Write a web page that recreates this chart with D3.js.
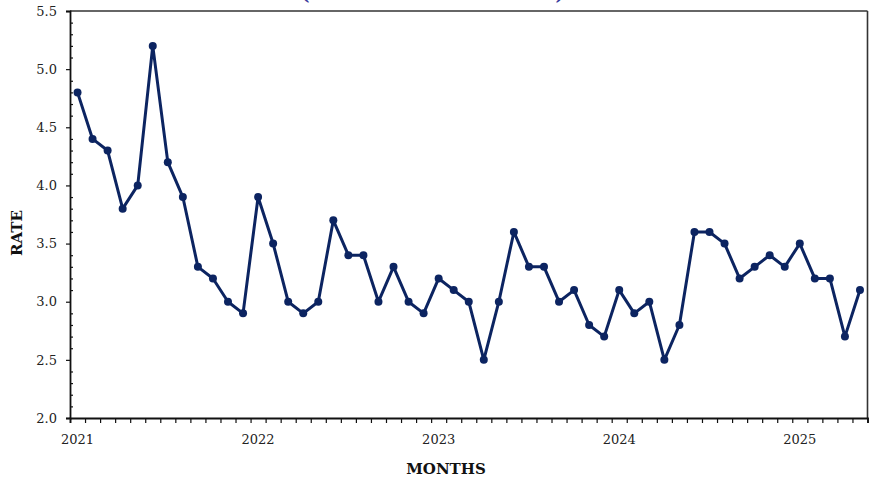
<!DOCTYPE html>
<html>
<head>
<meta charset="utf-8">
<script src="https://cdn.jsdelivr.net/npm/d3@7/dist/d3.min.js"></script>
<style>
  html, body { margin: 0; padding: 0; background: #fff; }
  svg { display: block; font-family: "DejaVu Serif", "Liberation Serif", serif; }
</style>
</head>
<body>
<svg id="chart" width="871" height="479"></svg>
<script>
// ---- data ----
const startMonth = new Date(2021, 0, 1);
const endMonth = new Date(2025, 5, 1); // exclusive
const rateValues = [
  4.8, 4.4, 4.3, 3.8, 4.0, 5.2, 4.2, 3.9, 3.3, 3.2, 3.0, 2.9,
  3.9, 3.5, 3.0, 2.9, 3.0, 3.7, 3.4, 3.4, 3.0, 3.3, 3.0, 2.9,
  3.2, 3.1, 3.0, 2.5, 3.0, 3.6, 3.3, 3.3, 3.0, 3.1, 2.8, 2.7,
  3.1, 2.9, 3.0, 2.5, 2.8, 3.6, 3.6, 3.5, 3.2, 3.3, 3.4, 3.3,
  3.5, 3.2, 3.2, 2.7, 3.1
];
const yearLabels = ["2021", "2022", "2023", "2024", "2025"];
const yMajorTicks = [2.0, 2.5, 3.0, 3.5, 4.0, 4.5, 5.0, 5.5];
const titleText = "(MONTHLY RATE 2021 TO 2025)";
const xTitle = "MONTHS";
const yTitle = "RATE";

// ---- build ----
const fmt = d3.timeFormat("%Y-%m");
const months = d3.timeMonths(startMonth, endMonth).map(fmt);
const data = months.map((m, i) => ({ m, v: rateValues[i] }));

const svg = d3.select("#chart");
const L = 70, R = 867.5, T = 11, B = 418;
const color = "#0c2461";

const x = d3.scaleBand().domain(months).range([L, R]).padding(0);
const xi = d3.scaleLinear().domain([0, months.length]).range([L, R]);
const y = d3.scaleLinear().domain([2.0, 5.5]).range([B, T]);

// title (clipped at top, as in reference)
svg.append("text")
  .attr("x", 432.5).attr("y", 0)
  .attr("text-anchor", "middle")
  .attr("font-size", 17).attr("font-weight", "bold")
  .attr("fill", "#3b3b9e")
  .attr("textLength", 262).attr("lengthAdjust", "spacing")
  .text(titleText);

// frame: top and right
svg.append("line").attr("x1", L).attr("x2", R).attr("y1", T).attr("y2", T)
  .attr("stroke", "#333").attr("stroke-width", 1.6);
svg.append("line").attr("x1", R).attr("x2", R).attr("y1", T).attr("y2", B)
  .attr("stroke", "#333").attr("stroke-width", 1.6);

// x axis: month ticks at band edges
const gxTicks = svg.append("g").attr("transform", `translate(0,${B})`)
  .call(d3.axisBottom(xi).tickValues(d3.range(0, months.length + 1)).tickSize(5).tickFormat(""));
gxTicks.select(".domain").attr("stroke", "#111").attr("stroke-width", 1.8);
gxTicks.selectAll(".tick line").attr("stroke", "#111").attr("stroke-width", 1.2);

// year labels at January band centres
const gxLab = svg.append("g").attr("transform", `translate(0,${B})`)
  .call(d3.axisBottom(x)
    .tickValues(yearLabels.map(yr => yr + "-01"))
    .tickSize(0).tickPadding(17)
    .tickFormat(d => d.slice(0, 4)));
gxLab.select(".domain").remove();
gxLab.selectAll("text").attr("font-size", 13).attr("fill", "#222")
  .attr("font-family", "DejaVu Serif, serif");

// y axis major
const gy = svg.append("g").attr("transform", `translate(${L},0)`)
  .call(d3.axisLeft(y).tickValues(yMajorTicks).tickSize(4).tickPadding(9).tickFormat(d3.format(".1f")));
gy.select(".domain").attr("stroke", "#111").attr("stroke-width", 1.8);
gy.selectAll(".tick line").attr("stroke", "#111").attr("stroke-width", 1.2);
gy.selectAll("text").attr("font-size", 13).attr("fill", "#222")
  .attr("font-family", "DejaVu Serif, serif");

// y axis minor (inward)
const minor = d3.range(20, 56).map(d => d / 10).filter(d => Math.round(d * 10) % 5 !== 0);
const gym = svg.append("g").attr("transform", `translate(${L},0)`)
  .call(d3.axisRight(y).tickValues(minor).tickSize(3).tickFormat(""));
gym.select(".domain").remove();
gym.selectAll(".tick line").attr("stroke", "#111").attr("stroke-width", 1.2);

// axis titles
svg.append("text")
  .attr("x", 446).attr("y", 474)
  .attr("text-anchor", "middle")
  .attr("font-size", 15).attr("font-weight", "bold").attr("fill", "#111")
  .text(xTitle);
svg.append("text")
  .attr("transform", "translate(22,233) rotate(-90)")
  .attr("text-anchor", "middle")
  .attr("font-size", 15).attr("font-weight", "bold").attr("fill", "#111")
  .text(yTitle);

// line + points
const cx = d => x(d.m) + x.bandwidth() / 2;
svg.append("path").datum(data)
  .attr("fill", "none").attr("stroke", color).attr("stroke-width", 3)
  .attr("stroke-linejoin", "round")
  .attr("d", d3.line().x(cx).y(d => y(d.v)));
svg.append("g").selectAll("circle").data(data).join("circle")
  .attr("cx", cx).attr("cy", d => y(d.v)).attr("r", 4)
  .attr("fill", color);
</script>
</body>
</html>
